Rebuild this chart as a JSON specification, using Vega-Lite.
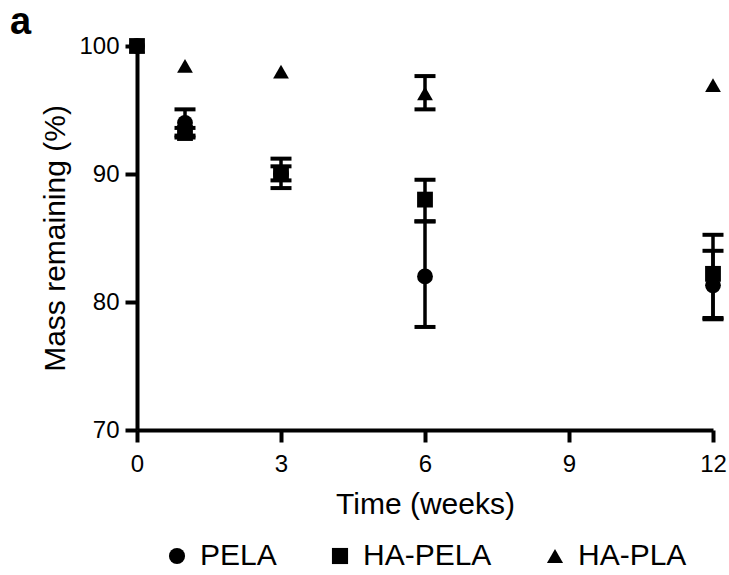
{
  "$schema": "https://vega.github.io/schema/vega-lite/v6.json",
  "width": 576,
  "height": 384,
  "autosize": {"type": "none"},
  "padding": {"left": 137, "top": 46, "right": 16, "bottom": 145},
  "background": "white",
  "title": {"text": "a", "anchor": "start", "frame": "group", "dx": -127, "dy": 16, "offset": 8, "fontSize": 38, "fontWeight": "bold", "font": "Liberation Sans", "color": "black"},
  "config": {
    "view": {"stroke": null},
    "font": "Liberation Sans",
    "axis": {"domainColor": "black", "domainWidth": 4, "tickColor": "black", "tickWidth": 4, "grid": false, "labelColor": "black", "titleColor": "black", "labelFont": "Liberation Sans", "titleFont": "Liberation Sans", "titleFontWeight": "normal"}
  },
  "data": {"values": [
    {"time": 0, "group": "PELA", "mean": 100, "lo": 100, "hi": 100},
    {"time": 1, "group": "PELA", "mean": 94.0, "lo": 93.0, "hi": 95.05},
    {"time": 3, "group": "PELA", "mean": 90.0, "lo": 89.5, "hi": 90.6},
    {"time": 6, "group": "PELA", "mean": 82.0, "lo": 78.05, "hi": 86.3},
    {"time": 12, "group": "PELA", "mean": 81.3, "lo": 78.65, "hi": 84.0},
    {"time": 0, "group": "HA-PELA", "mean": 100, "lo": 100, "hi": 100},
    {"time": 1, "group": "HA-PELA", "mean": 93.2, "lo": 92.85, "hi": 93.6},
    {"time": 3, "group": "HA-PELA", "mean": 90.05, "lo": 88.9, "hi": 91.2},
    {"time": 6, "group": "HA-PELA", "mean": 88.0, "lo": 86.3, "hi": 89.55},
    {"time": 12, "group": "HA-PELA", "mean": 82.2, "lo": 78.75, "hi": 85.25},
    {"time": 0, "group": "HA-PLA", "mean": 100, "lo": 100, "hi": 100},
    {"time": 1, "group": "HA-PLA", "mean": 98.45, "lo": 98.45, "hi": 98.45},
    {"time": 3, "group": "HA-PLA", "mean": 98.0, "lo": 98.0, "hi": 98.0},
    {"time": 6, "group": "HA-PLA", "mean": 96.3, "lo": 95.05, "hi": 97.65},
    {"time": 12, "group": "HA-PLA", "mean": 96.95, "lo": 96.95, "hi": 96.95}
  ]},
  "encoding": {
    "x": {"field": "time", "type": "quantitative",
      "scale": {"domain": [0, 12], "nice": false, "zero": false},
      "axis": {"values": [0, 3, 6, 9, 12], "title": "Time (weeks)", "labelFontSize": 24, "titleFontSize": 30, "tickSize": 12, "labelPadding": 10, "titlePadding": 13, "labelFlush": false}}
  },
  "layer": [
    {
      "transform": [{"filter": "datum.hi > datum.lo"}],
      "mark": {"type": "rule", "color": "black", "strokeWidth": 3.5},
      "encoding": {
        "y": {"field": "lo", "type": "quantitative", "scale": {"domain": [70, 100], "nice": false, "zero": false}},
        "y2": {"field": "hi"}
      }
    },
    {
      "transform": [{"filter": "datum.hi > datum.lo"}],
      "mark": {"type": "tick", "orient": "horizontal", "color": "black", "size": 21, "thickness": 4, "opacity": 1},
      "encoding": {"y": {"field": "lo", "type": "quantitative"}}
    },
    {
      "transform": [{"filter": "datum.hi > datum.lo"}],
      "mark": {"type": "tick", "orient": "horizontal", "color": "black", "size": 21, "thickness": 4, "opacity": 1},
      "encoding": {"y": {"field": "hi", "type": "quantitative"}}
    },
    {
      "mark": {"type": "point", "filled": true, "color": "black", "opacity": 1, "size": 250},
      "encoding": {
        "y": {"field": "mean", "type": "quantitative",
          "axis": {"values": [70, 80, 90, 100], "title": "Mass remaining (%)", "labelFontSize": 24, "titleFontSize": 30, "tickSize": 12, "labelPadding": 6, "titlePadding": 8}},
        "shape": {"field": "group", "type": "nominal",
          "scale": {"domain": ["PELA", "HA-PELA", "HA-PLA"], "range": ["circle", "square", "triangle-up"]},
          "legend": {"title": null, "orient": "none", "direction": "horizontal", "legendX": 25, "legendY": 495, "labelFontSize": 30, "labelFont": "Liberation Sans", "labelColor": "black", "symbolSize": 260, "symbolFillColor": "black", "symbolStrokeColor": "black", "columnPadding": 48, "labelOffset": 8}}
      }
    }
  ]
}
